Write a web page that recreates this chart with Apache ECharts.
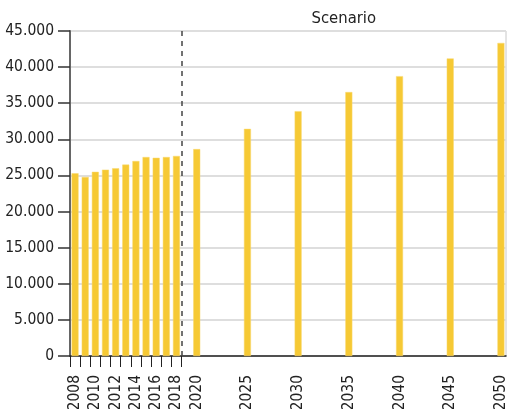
<!DOCTYPE html>
<html>
<head>
<meta charset="utf-8">
<script src="https://cdn.jsdelivr.net/npm/echarts@6/dist/echarts.min.js"></script>
<style>
html,body{margin:0;padding:0;background:#fff;}
#c{width:511px;height:409px;}
</style>
</head>
<body>
<div id="c"></div>
<script>
const years = [2008, 2009, 2010, 2011, 2012, 2013, 2014, 2015, 2016, 2017, 2018, 2020, 2025, 2030, 2035, 2040, 2045, 2050];
const values = [25300, 24800, 25500, 25800, 26000, 26500, 27000, 27550, 27450, 27550, 27700, 28650, 31450, 33900, 36550, 38750, 41200, 43350];
const xLabelYears = [2008, 2010, 2012, 2014, 2016, 2018, 2020, 2025, 2030, 2035, 2040, 2045, 2050];
const xTickPositions = [2007.5, 2008.5, 2009.5, 2010.5, 2011.5, 2012.5, 2013.5, 2014.5, 2015.5, 2016.5, 2017.5, 2018.5];
const scenarioStart = 2018.5;
const scenarioLabel = 'Scenario';

const FONT = "'DejaVu Sans Condensed', 'Liberation Sans Narrow', sans-serif";
const chart = echarts.init(document.getElementById('c'), null, {renderer: 'canvas'});
chart.setOption({
  animation: false,
  backgroundColor: '#fff',
  grid: {left: 70, right: 5, top: 31, bottom: 53, containLabel: false, outerBoundsMode: 'none',
    show: true, borderColor: '#c8c8c8', borderWidth: 1},
  xAxis: {
    type: 'value', min: 2007.5, max: 2050.5,
    axisLine: {show: true, onZero: false, lineStyle: {color: '#222', width: 1.5}},
    axisTick: {show: true, customValues: xTickPositions, length: 11, lineStyle: {color: '#222', width: 1}},
    axisLabel: {customValues: xLabelYears, rotate: 90, margin: 19, fontFamily: FONT, fontSize: 15.5, color: '#222', formatter: v => String(v)},
    splitLine: {show: false}
  },
  yAxis: {
    type: 'value', min: 0, max: 45000, interval: 5000,
    axisLine: {show: true, lineStyle: {color: '#666', width: 2}},
    axisTick: {show: true, length: 12, lineStyle: {color: '#333', width: 1.5}},
    axisLabel: {fontFamily: FONT, fontSize: 15.5, color: '#222', margin: 16,
      formatter: v => String(v).replace(/\B(?=(\d{3})+(?!\d))/g, '.')},
    splitLine: {show: true, lineStyle: {color: '#dedede', width: 2}}
  },
  series: [{
    type: 'bar',
    barWidth: 7,
    data: years.map((y, i) => [y, values[i]]),
    itemStyle: {color: '#F6C934', borderColor: '#F9D970', borderWidth: 0.5},
    markLine: {
      silent: true, symbol: 'none',
      label: {show: false},
      lineStyle: {color: '#444', type: [5, 5], width: 1.5},
      data: [{xAxis: scenarioStart}]
    },
    markArea: {
      silent: true,
      itemStyle: {color: 'rgba(0,0,0,0)'},
      label: {show: true, position: 'top', distance: 4, formatter: scenarioLabel, fontFamily: FONT, fontSize: 16.5, color: '#222'},
      data: [[{xAxis: scenarioStart}, {xAxis: 2050.5}]]
    }
  }]
});
</script>
</body>
</html>
